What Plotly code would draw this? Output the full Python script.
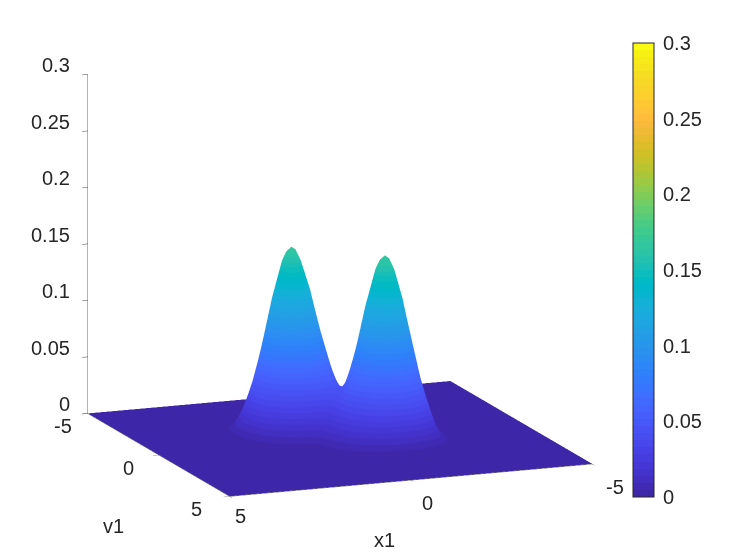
import plotly.graph_objects as go

x1 = [-5,-2.8,-2.44,-2.14,-1.78,-1.56,-1.335,-1.11,-1.0,-.89,-.78,-.67,-.445,-.22,0,.27,.52,.77,.88,.99,1.10,1.21,1.435,1.66,1.88,2.24,2.54,2.9,5]
v1 = [-5,-2.8,-2.44,-2.14,-1.78,-1.56,-1.335,-1.11,-1.0,-.89,-.78,-.67,-.445,-.22,0,.22,.445,.67,.78,.89,1.0,1.11,1.335,1.56,1.78,2.14,2.44,2.8,5]
# surface heights, in units of 1e-4; one row per v1 value
heights = [
[0]*29,
[0,0,0,0,0,0,0,0,0,0,0,0,0,1,1,2,2,3,3,3,3,3,2,2,1,0,0,0,0],
[0,0,0,0,0,0,0,0,0,1,1,1,3,6,11,17,24,29,30,30,30,29,24,17,11,3,1,0,0],
[0,0,0,0,0,0,0,1,2,3,5,8,18,37,64,100,136,164,172,175,172,164,136,100,64,18,3,0,0],
[0,0,0,0,0,0,1,4,7,11,18,29,64,128,225,348,476,574,601,611,601,574,476,348,225,64,11,1,0],
[0,0,0,0,0,0,3,7,11,18,29,45,101,199,348,539,737,888,931,946,931,888,737,539,348,100,17,2,0],
[0,0,0,0,1,2,5,11,17,27,41,64,139,273,477,738,1007,1214,1273,1293,1272,1214,1007,737,476,136,24,2,0],
[0,0,0,1,4,7,11,20,27,39,56,83,172,333,578,890,1215,1465,1535,1559,1535,1465,1214,888,574,164,29,3,0],
[0,0,0,2,7,11,17,27,36,48,66,94,186,353,609,935,1275,1536,1610,1634,1609,1535,1273,931,602,172,30,3,0],
[0,0,1,3,11,18,27,39,48,60,79,106,199,365,622,952,1296,1560,1635,1661,1634,1559,1293,946,611,175,30,3,0],
[0,0,1,5,18,29,42,57,66,79,97,123,210,371,620,941,1278,1537,1611,1635,1610,1535,1273,931,602,172,30,3,0],
[0,0,1,8,29,45,64,83,93,107,122,146,225,371,603,904,1222,1469,1537,1560,1536,1466,1214,888,574,164,29,3,0],
[0,0,3,18,64,101,138,172,186,199,210,225,272,371,540,774,1025,1222,1278,1296,1274,1215,1007,737,476,136,24,2,0],
[0,1,6,37,128,198,273,333,352,365,370,371,371,396,476,612,774,904,941,952,935,890,738,539,348,100,17,2,0],
[0,1,11,64,225,348,477,578,608,622,619,603,540,476,450,476,540,603,619,622,608,578,477,348,225,64,11,1,0],
[0,2,17,100,348,539,738,890,935,952,941,904,774,612,476,396,371,371,370,365,352,333,273,198,128,37,6,1,0],
[0,2,24,136,476,737,1007,1215,1274,1296,1278,1222,1025,774,540,371,272,225,210,199,186,172,138,101,64,18,3,0,0],
[0,3,29,164,574,888,1214,1466,1536,1560,1537,1469,1222,904,603,371,225,146,122,107,93,83,64,45,29,8,1,0,0],
[0,3,30,172,602,931,1273,1535,1610,1635,1611,1537,1278,941,620,371,210,123,97,79,66,57,42,29,18,5,1,0,0],
[0,3,30,175,611,946,1293,1559,1634,1661,1635,1560,1296,952,622,365,199,106,79,60,48,39,27,18,11,3,1,0,0],
[0,3,30,172,602,931,1273,1535,1609,1634,1610,1536,1275,935,609,353,186,94,66,48,36,27,17,11,7,2,0,0,0],
[0,3,29,164,574,888,1214,1465,1535,1559,1535,1465,1215,890,578,333,172,83,56,39,27,20,11,7,4,1,0,0,0],
[0,2,24,136,476,737,1007,1214,1272,1293,1273,1214,1007,738,477,273,139,64,41,27,17,11,5,2,1,0,0,0,0],
[0,2,17,100,348,539,737,888,931,946,931,888,737,539,348,199,101,45,29,18,11,7,3,0,0,0,0,0,0],
[0,1,11,64,225,348,476,574,601,611,601,574,476,348,225,128,64,29,18,11,7,4,1,0,0,0,0,0,0],
[0,0,3,18,64,100,136,164,172,175,172,164,136,100,64,37,18,8,5,3,2,1,0,0,0,0,0,0,0],
[0,0,1,3,11,17,24,29,30,30,30,29,24,17,11,6,3,1,1,1,0,0,0,0,0,0,0,0,0],
[0,0,0,0,1,2,2,3,3,3,3,3,2,2,1,1,0,0,0,0,0,0,0,0,0,0,0,0,0],
[0]*29,
]
z_ticks = [0, 0.05, 0.1, 0.15, 0.2, 0.25, 0.3]
z_tick_labels = ["0", "0.05", "0.1", "0.15", "0.2", "0.25", "0.3"]
xy_ticks = [-5, 0, 5]
xy_tick_labels = ["-5", "0", "5"]

parula = [
(0.2422,0.1504,0.6603),(0.2504,0.1650,0.7076),(0.2578,0.1818,0.7511),(0.2647,0.1978,0.7952),
(0.2706,0.2147,0.8364),(0.2751,0.2342,0.8710),(0.2783,0.2559,0.8991),(0.2803,0.2782,0.9221),
(0.2813,0.3006,0.9414),(0.2810,0.3228,0.9579),(0.2795,0.3447,0.9717),(0.2760,0.3667,0.9829),
(0.2699,0.3892,0.9906),(0.2602,0.4123,0.9952),(0.2440,0.4358,0.9988),(0.2206,0.4603,0.9973),
(0.1963,0.4847,0.9892),(0.1834,0.5074,0.9798),(0.1786,0.5289,0.9682),(0.1764,0.5499,0.9520),
(0.1687,0.5703,0.9359),(0.1540,0.5902,0.9218),(0.1460,0.6091,0.9079),(0.1380,0.6276,0.8973),
(0.1248,0.6459,0.8883),(0.1113,0.6635,0.8763),(0.0952,0.6798,0.8598),(0.0689,0.6948,0.8394),
(0.0297,0.7082,0.8163),(0.0036,0.7203,0.7917),(0.0067,0.7312,0.7660),(0.0433,0.7411,0.7394),
(0.0964,0.7500,0.7120),(0.1408,0.7584,0.6842),(0.1717,0.7670,0.6554),(0.1938,0.7758,0.6251),
(0.2161,0.7843,0.5923),(0.2470,0.7918,0.5567),(0.2906,0.7973,0.5188),(0.3406,0.8008,0.4789),
(0.3909,0.8029,0.4354),(0.4456,0.8024,0.3909),(0.5044,0.7993,0.3480),(0.5616,0.7942,0.3045),
(0.6174,0.7876,0.2612),(0.6720,0.7793,0.2227),(0.7242,0.7698,0.1910),(0.7738,0.7598,0.1646),
(0.8203,0.7498,0.1535),(0.8634,0.7406,0.1596),(0.9035,0.7330,0.1774),(0.9393,0.7288,0.2100),
(0.9728,0.7298,0.2394),(0.9956,0.7434,0.2371),(0.9970,0.7659,0.2199),(0.9952,0.7861,0.1991),
(0.9892,0.8073,0.1815),(0.9786,0.8274,0.1663),(0.9676,0.8485,0.1489),(0.9610,0.8704,0.1346),
(0.9597,0.8949,0.1172),(0.9628,0.9204,0.0948),(0.9691,0.9468,0.0755),(0.9769,0.9839,0.0805),
]
colorscale = []
for i, c in enumerate(parula):
    css = "rgb(%d,%d,%d)" % tuple(round(255 * k) for k in c)
    colorscale.append([i / 64, css])
    colorscale.append([(i + 1) / 64, css])

FONT = dict(family="Liberation Sans", size=20, color="#262626")
z = [[h * 1e-4 for h in row] for row in heights]

fig = go.Figure(go.Surface(
    x=x1, y=v1, z=z, cmin=0, cmax=0.3, colorscale=colorscale,
    lighting=dict(ambient=1, diffuse=0, specular=0, roughness=1, fresnel=0),
    hoverinfo="skip",
    contours=dict(x=dict(highlight=False), y=dict(highlight=False), z=dict(highlight=False)),
    colorbar=dict(
        x=625 / 747, xanchor="left", xref="paper", y=(560 - 489) / 560, yanchor="bottom", yref="paper",
        lenmode="pixels", len=454, thicknessmode="pixels", thickness=21,
        tickmode="array", tickvals=z_ticks, ticktext=z_tick_labels, tickfont=FONT,
        ticks="outside", ticklen=5, tickcolor="rgba(0,0,0,0)", tickwidth=1,
        outlinecolor="#262626", outlinewidth=1, borderwidth=0, xpad=0, ypad=0,
    ),
))

def axis(ticks, rng=(-5, 5)):
    return dict(
        title=dict(text=""), range=list(rng), tickmode="array", tickvals=ticks,
        showticklabels=False,
        showgrid=False, zeroline=False, showbackground=False, showspikes=False,
        showline=True, linecolor="#666666", linewidth=1, ticks="outside", ticklen=6,
        tickcolor="#444444", tickwidth=1,
    )

def label(text, x, y, z, xshift, yshift, xanchor="center"):
    return dict(text=text, x=x, y=y, z=z, xshift=xshift, yshift=yshift, xanchor=xanchor,
                yanchor="middle", showarrow=False, font=FONT)

scene_labels = [label(t, 5, -5, v, -16, 9, "right") for v, t in zip(z_ticks, z_tick_labels)]
v_label_shifts = [(-25, -13), (-30, -13), (-33, -13)]
scene_labels += [label(t, 5, v, 0, dx, dy) for v, t, (dx, dy) in zip(xy_ticks, xy_tick_labels, v_label_shifts)]
x_label_shifts = [(23, -23), (17, -23), (11, -20)]
scene_labels += [label(t, v, 5, 0, dx, dy) for v, t, (dx, dy) in zip(xy_ticks, xy_tick_labels, x_label_shifts)]

fig.update_layout(
    width=747, height=560, autosize=False, paper_bgcolor="white",
    margin=dict(l=0, r=0, t=0, b=0, autoexpand=False),
    scene=dict(
        domain=dict(x=[0, 664 / 747], y=[24 / 560, 1]),
        xaxis=axis(xy_ticks),
        yaxis=axis(xy_ticks),
        zaxis=axis(z_ticks, (-0.0002, 0.3)),
        aspectmode="manual", aspectratio=dict(x=1.453, y=1.453, z=1.30),
        camera=dict(projection=dict(type="orthographic"), up=dict(x=0, y=0, z=1),
                    center=dict(x=0, y=0, z=-0.026),
                    eye=dict(x=0.708, y=1.81, z=0.43)),
        annotations=scene_labels,
    ),
    annotations=[
        dict(text="x1", x=376 / 747, y=1 - 532 / 560, xref="paper", yref="paper", xanchor="center", yanchor="middle", showarrow=False, font=FONT),
        dict(text="v1", x=105 / 747, y=1 - 518 / 560, xref="paper", yref="paper", xanchor="center", yanchor="middle", showarrow=False, font=FONT),
    ],
)
fig.write_html("out.html")
